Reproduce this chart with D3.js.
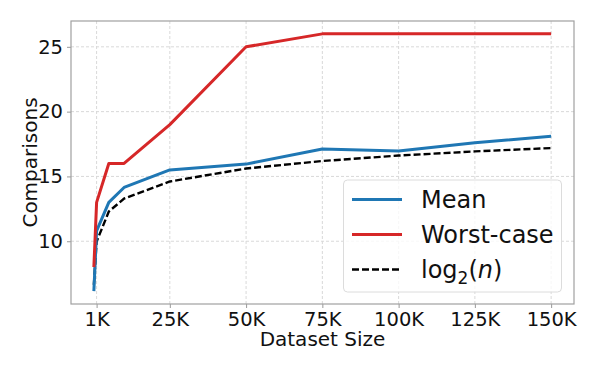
<!DOCTYPE html>
<html>
<head>
<meta charset="utf-8">
<script src="https://cdn.jsdelivr.net/npm/d3@7"></script>
<style>
  body { margin: 0; background: #fff; }
  svg { font-family: "DejaVu Sans", sans-serif; }
</style>
</head>
<body>
<script>
// valeurs
const sizes = [100, 1000, 5000, 10000, 25000, 50000, 75000, 100000, 125000, 150000];
const meanComp = [6.15, 10.8, 13.0, 14.15, 15.5, 15.95, 17.12, 16.97, 17.6, 18.1];
const worstComp = [8.0, 13, 16, 16, 19, 25, 26, 26, 26, 26];
const log2Comp = [6.64, 9.97, 12.29, 13.29, 14.61, 15.61, 16.19, 16.61, 16.93, 17.19];
const xTicks = [1000, 25000, 50000, 75000, 100000, 125000, 150000];
const xTickLabels = ['1K', '25K', '50K', '75K', '100K', '125K', '150K'];
const yTicks = [10, 15, 20, 25];
const seriesNames = ['Mean', 'Worst-case', 'log2(n)'];

const W = 600, H = 371;
const box = { left: 71, right: 574, top: 21, bottom: 304 };

const svg = d3.select('body').append('svg').attr('width', W).attr('height', H);

// marges de 5% comme matplotlib
const xr = d3.extent(sizes);
const xpad = (xr[1] - xr[0]) * 0.05;
const allY = meanComp.concat(worstComp, log2Comp);
const yr = d3.extent(allY);
const ypad = (yr[1] - yr[0]) * 0.05;

const x = d3.scaleLinear().domain([xr[0] - xpad, xr[1] + xpad]).range([box.left, box.right]);
const y = d3.scaleLinear().domain([yr[0] - ypad, yr[1] + ypad]).range([box.bottom, box.top]);

// grille
const grid = svg.append('g').attr('stroke', '#d9d9d9').attr('stroke-width', 1).attr('stroke-dasharray', '3,2');
grid.selectAll('.gx').data(xTicks).enter().append('line')
  .attr('x1', d => x(d)).attr('x2', d => x(d)).attr('y1', box.top).attr('y2', box.bottom);
grid.selectAll('.gy').data(yTicks).enter().append('line')
  .attr('y1', d => y(d)).attr('y2', d => y(d)).attr('x1', box.left).attr('x2', box.right);

// axes
const xAxis = d3.axisBottom(x).tickValues(xTicks).tickFormat((d, i) => xTickLabels[i]).tickSize(4).tickPadding(4);
const yAxis = d3.axisLeft(y).tickValues(yTicks).tickSize(4).tickPadding(4);

const gx = svg.append('g').attr('transform', `translate(0,${box.bottom})`).call(xAxis);
const gy = svg.append('g').attr('transform', `translate(${box.left},0)`).call(yAxis);
[gx, gy].forEach(g => {
  g.select('.domain').remove();
  g.selectAll('.tick line').attr('stroke', '#999');
  g.selectAll('.tick text').attr('fill', '#111').style('font-size', '19.5px').style('font-family', 'DejaVu Sans');
});

// lignes
const line = vals => d3.line().x((d, i) => x(sizes[i])).y(d => y(d))(vals);

svg.append('path').attr('d', line(log2Comp)).attr('fill', 'none')
  .attr('stroke', '#000').attr('stroke-width', 2.4).attr('stroke-dasharray', '7,3');
svg.append('path').attr('d', line(meanComp)).attr('fill', 'none')
  .attr('stroke', '#1f77b4').attr('stroke-width', 3).attr('stroke-linejoin', 'round');
svg.append('path').attr('d', line(worstComp)).attr('fill', 'none')
  .attr('stroke', '#d62728').attr('stroke-width', 3).attr('stroke-linejoin', 'round');

// cadre
svg.append('rect').attr('x', box.left).attr('y', box.top)
  .attr('width', box.right - box.left).attr('height', box.bottom - box.top)
  .attr('fill', 'none').attr('stroke', '#a0a0a0').attr('stroke-width', 1.2);

// titres des axes
svg.append('text').attr('x', (box.left + box.right) / 2).attr('y', 346)
  .attr('text-anchor', 'middle').style('font-size', '20px').attr('fill', '#111').text('Dataset Size');
svg.append('text').attr('transform', `translate(37,${(box.top + box.bottom) / 2}) rotate(-90)`)
  .attr('text-anchor', 'middle').style('font-size', '20px').attr('fill', '#111').text('Comparisons');

// légende
const leg = svg.append('g');
leg.append('rect').attr('x', 343.5).attr('y', 180).attr('width', 218).attr('height', 112)
  .attr('rx', 4).attr('fill', 'rgba(255,255,255,0.8)').attr('stroke', '#dcdcdc').attr('stroke-width', 1);
const legStyles = [
  { color: '#1f77b4', dash: null, w: 3 },
  { color: '#d62728', dash: null, w: 3 },
  { color: '#000', dash: '7,3', w: 2.4 }
];
seriesNames.forEach((name, i) => {
  const cy = 199.5 + i * 35;
  leg.append('line').attr('x1', 352).attr('x2', 402).attr('y1', cy).attr('y2', cy)
    .attr('stroke', legStyles[i].color).attr('stroke-width', legStyles[i].w)
    .attr('stroke-dasharray', legStyles[i].dash);
  const t = leg.append('text').attr('x', 421).attr('y', cy + 8.5)
    .style('font-size', '24px').attr('fill', '#111');
  if (i === 2) {
    t.append('tspan').text('log');
    t.append('tspan').attr('dy', 6).style('font-size', '17px').text('2');
    t.append('tspan').attr('dy', -6).text('(');
    t.append('tspan').style('font-style', 'italic').text('n');
    t.append('tspan').text(')');
  } else {
    t.text(name);
  }
});
</script>
</body>
</html>
